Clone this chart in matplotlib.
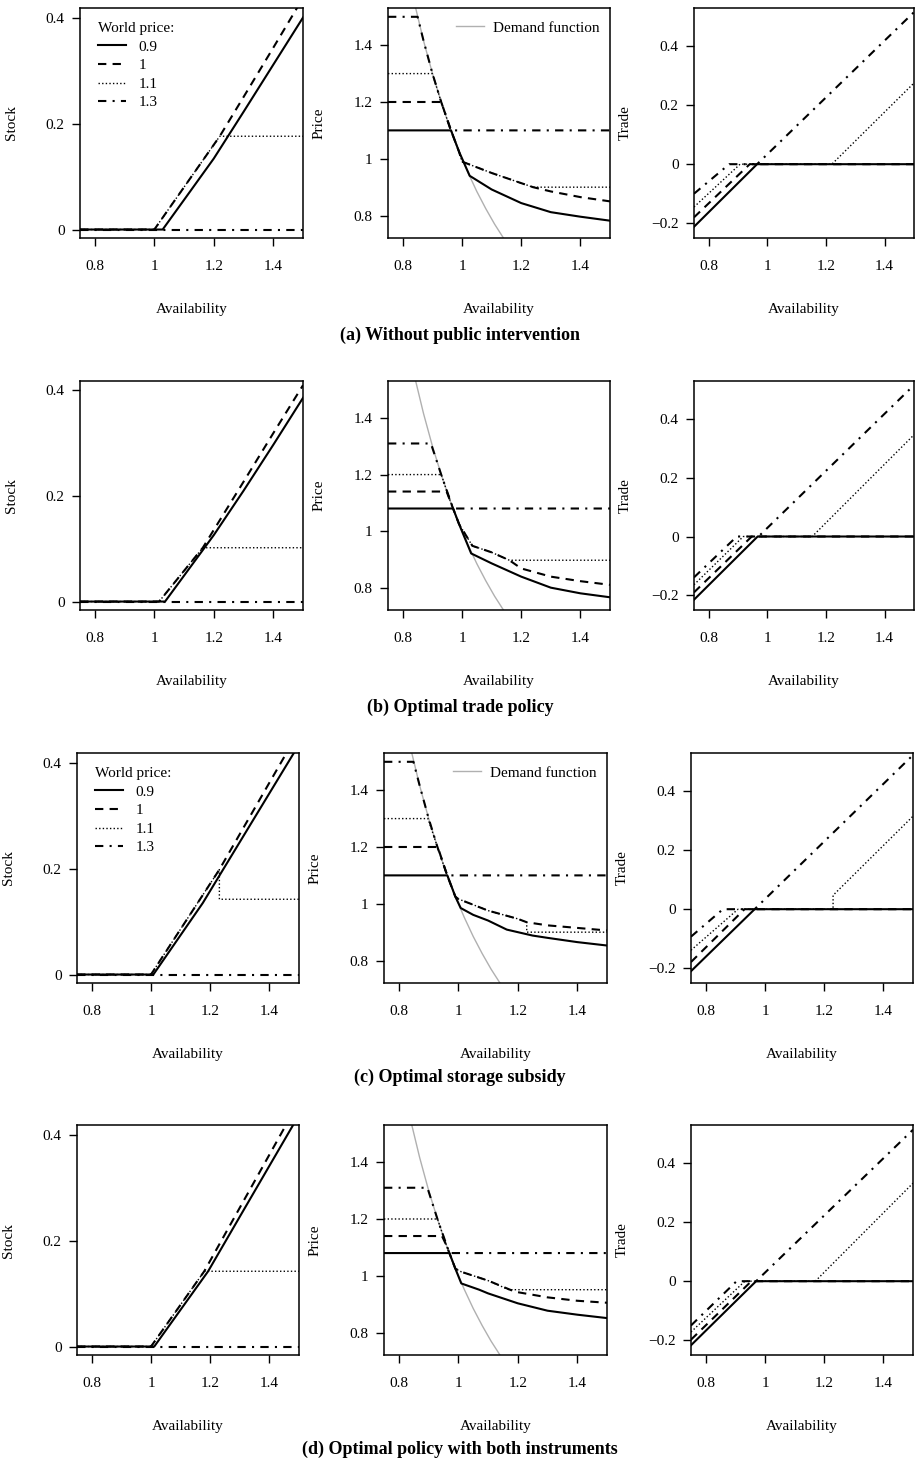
import matplotlib
matplotlib.use("Agg")
import matplotlib.pyplot as plt

plt.rcParams['font.family'] = ['Liberation Serif', 'DejaVu Serif']
plt.rcParams['font.size'] = 11

W, H = 915, 1467

# world price levels and their line styles
prices = ["0.9", "1", "1.1", "1.3"]

# demand function
demand_x = [0.84, 0.87, 0.90, 0.93, 0.96, 0.99, 1.02, 1.05, 1.08, 1.11, 1.14]
demand_y = [1.546, 1.416, 1.301, 1.199, 1.107, 1.025, 0.952, 0.885, 0.825, 0.770, 0.721]

# (a) without public intervention
stock_a = {
    "0.9": ([0.75, 1.028, 1.1, 1.2, 1.3, 1.4, 1.5], [0, 0, 0.056, 0.134, 0.222, 0.311, 0.40]),
    "1":   ([0.75, 1.0, 1.1, 1.22, 1.3, 1.4, 1.5], [0, 0, 0.08, 0.176, 0.25, 0.343, 0.437]),
    "1.1": ([0.75, 1.0, 1.1, 1.22, 1.5], [0, 0, 0.08, 0.176, 0.176]),
    "1.3": ([0.75, 1.5], [0, 0]),
}
price_a = {
    "0.9": ([0.75, 0.963, 0.99, 1.026, 1.1, 1.2, 1.3, 1.4, 1.5],
            [1.1, 1.1, 1.025, 0.94, 0.892, 0.844, 0.812, 0.796, 0.782]),
    "1":   ([0.75, 0.93, 0.96, 0.99, 1.0, 1.1, 1.24, 1.3, 1.4, 1.5],
            [1.2, 1.2, 1.107, 1.025, 0.99, 0.95, 0.9, 0.885, 0.865, 0.85]),
    "1.1": ([0.75, 0.9, 0.93, 0.96, 0.99, 1.0, 1.1, 1.24, 1.5],
            [1.3, 1.3, 1.199, 1.107, 1.025, 0.99, 0.95, 0.9, 0.9]),
    "1.3": ([0.75, 0.85, 0.87, 0.9, 0.93, 0.963, 1.5],
            [1.5, 1.5, 1.416, 1.301, 1.199, 1.1, 1.1]),
}
trade_a = {
    "0.9": ([0.75, 0.965, 1.5], [-0.212, 0, 0]),
    "1":   ([0.75, 0.94, 1.5], [-0.18, 0, 0]),
    "1.1": ([0.75, 0.907, 1.22, 1.5], [-0.145, 0, 0, 0.275]),
    "1.3": ([0.75, 0.87, 0.965, 1.5], [-0.10, 0, 0, 0.515]),
}

# (b) optimal trade policy
stock_b = {
    "0.9": ([0.75, 1.036, 1.2, 1.3, 1.4, 1.5], [0, 0, 0.126, 0.21, 0.297, 0.386]),
    "1":   ([0.75, 1.016, 1.163, 1.3, 1.4, 1.5], [0, 0, 0.102, 0.227, 0.319, 0.41]),
    "1.1": ([0.75, 1.016, 1.163, 1.5], [0, 0, 0.102, 0.102]),
    "1.3": ([0.75, 1.5], [0, 0]),
}
price_b = {
    "0.9": ([0.75, 0.97, 0.99, 1.031, 1.1, 1.2, 1.3, 1.4, 1.5],
            [1.08, 1.08, 1.025, 0.921, 0.886, 0.839, 0.80, 0.78, 0.766]),
    "1":   ([0.75, 0.948, 0.96, 0.99, 1.035, 1.1, 1.16, 1.2, 1.3, 1.4, 1.5],
            [1.14, 1.14, 1.107, 1.025, 0.948, 0.925, 0.897, 0.868, 0.839, 0.823, 0.81]),
    "1.1": ([0.75, 0.93, 0.96, 0.99, 1.035, 1.1, 1.16, 1.5],
            [1.2, 1.2, 1.107, 1.025, 0.948, 0.925, 0.897, 0.897]),
    "1.3": ([0.75, 0.895, 0.93, 0.97, 1.5], [1.31, 1.31, 1.199, 1.08, 1.08]),
}
trade_b = {
    "0.9": ([0.75, 0.967, 1.5], [-0.215, 0, 0]),
    "1":   ([0.75, 0.947, 1.5], [-0.19, 0, 0]),
    "1.1": ([0.75, 0.918, 1.153, 1.5], [-0.164, 0, 0, 0.346]),
    "1.3": ([0.75, 0.896, 0.97, 1.5], [-0.139, 0, 0, 0.515]),
}

# (c) optimal storage subsidy
stock_c = {
    "0.9": ([0.75, 1.008, 1.175, 1.3, 1.4, 1.5], [0, 0, 0.135, 0.25, 0.342, 0.434]),
    "1":   ([0.75, 1.0, 1.231, 1.3, 1.4, 1.5], [0, 0, 0.198, 0.265, 0.362, 0.459]),
    "1.1": ([0.75, 1.0, 1.231, 1.231, 1.5], [0, 0, 0.198, 0.142, 0.142]),
    "1.3": ([0.75, 1.5], [0, 0]),
}
price_c = {
    "0.9": ([0.75, 0.963, 0.99, 1.008, 1.05, 1.1, 1.163, 1.25, 1.3, 1.4, 1.5],
            [1.1, 1.1, 1.025, 0.985, 0.961, 0.941, 0.909, 0.888, 0.88, 0.865, 0.853]),
    "1":   ([0.75, 0.931, 0.96, 0.99, 1.0, 1.1, 1.2, 1.23, 1.3, 1.4, 1.5],
            [1.2, 1.2, 1.107, 1.025, 1.017, 0.976, 0.947, 0.935, 0.924, 0.915, 0.906]),
    "1.1": ([0.75, 0.898, 0.93, 0.96, 0.99, 1.0, 1.1, 1.2, 1.23, 1.23, 1.5],
            [1.3, 1.3, 1.199, 1.107, 1.025, 1.017, 0.976, 0.947, 0.935, 0.9, 0.9]),
    "1.3": ([0.75, 0.849, 0.87, 0.9, 0.93, 0.963, 1.5],
            [1.5, 1.5, 1.416, 1.301, 1.199, 1.1, 1.1]),
}
trade_c = {
    "0.9": ([0.75, 0.965, 1.5], [-0.21, 0, 0]),
    "1":   ([0.75, 0.931, 1.5], [-0.179, 0, 0]),
    "1.1": ([0.75, 0.909, 1.23, 1.23, 1.5], [-0.139, 0, 0, 0.047, 0.315]),
    "1.3": ([0.75, 0.858, 0.965, 1.5], [-0.093, 0, 0, 0.522]),
}

# (d) optimal policy with both instruments
stock_d = {
    "0.9": ([0.75, 1.011, 1.193, 1.3, 1.4, 1.5], [0, 0, 0.142, 0.245, 0.341, 0.437]),
    "1":   ([0.75, 1.0, 1.18, 1.3, 1.4, 1.5], [0, 0, 0.142, 0.262, 0.362, 0.462]),
    "1.1": ([0.75, 1.0, 1.18, 1.5], [0, 0, 0.142, 0.142]),
    "1.3": ([0.75, 1.5], [0, 0]),
}
price_d = {
    "0.9": ([0.75, 0.97, 0.99, 1.01, 1.07, 1.1, 1.2, 1.3, 1.4, 1.5],
            [1.08, 1.08, 1.025, 0.973, 0.951, 0.938, 0.903, 0.877, 0.863, 0.851]),
    "1":   ([0.75, 0.945, 0.96, 0.99, 1.01, 1.1, 1.19, 1.3, 1.4, 1.5],
            [1.14, 1.14, 1.107, 1.025, 1.014, 0.983, 0.944, 0.924, 0.912, 0.905]),
    "1.1": ([0.75, 0.93, 0.96, 0.99, 1.01, 1.1, 1.17, 1.5],
            [1.2, 1.2, 1.107, 1.025, 1.014, 0.983, 0.951, 0.951]),
    "1.3": ([0.75, 0.896, 0.93, 0.97, 1.5], [1.31, 1.31, 1.199, 1.08, 1.08]),
}
trade_d = {
    "0.9": ([0.75, 0.97, 1.5], [-0.217, 0, 0]),
    "1":   ([0.75, 0.954, 1.5], [-0.198, 0, 0]),
    "1.1": ([0.75, 0.932, 1.17, 1.5], [-0.172, 0, 0, 0.332]),
    "1.3": ([0.75, 0.904, 0.97, 1.5], [-0.15, 0, 0, 0.513]),
}

captions = ["(a) Without public intervention", "(b) Optimal trade policy",
            "(c) Optimal storage subsidy", "(d) Optimal policy with both instruments"]

styles = {
    "0.9": dict(ls="-", lw=1.5),
    "1":   dict(ls=(0, (4, 3)), lw=1.5),
    "1.1": dict(ls=(0, (1, 1.6)), lw=1.0),
    "1.3": dict(ls=(0, (4, 3, 1, 3)), lw=1.5),
}

rows = [
    (stock_a, price_a, trade_a),
    (stock_b, price_b, trade_b),
    (stock_c, price_c, trade_c),
    (stock_d, price_d, trade_d),
]
row_y = [(8, 238), (381, 610), (753, 983), (1125, 1355)]
row_x = [
    [(80, 303), (388, 610), (694, 914)],
    [(80, 303), (388, 610), (694, 914)],
    [(77, 299), (384, 607), (691, 913)],
    [(77, 299), (384, 607), (691, 913)],
]
caption_y = [335, 707, 1077, 1449]

ylims = [(-0.016, 0.418), (0.721, 1.531), (-0.25, 0.529)]
yticks = [[0, 0.2, 0.4], [0.8, 1, 1.2, 1.4], [-0.2, 0, 0.2, 0.4]]
ylabels = ["Stock", "Price", "Trade"]


def fmt(v):
    s = "%g" % v
    return s.replace("-", "\u2212")


fig = plt.figure(figsize=(W / 100, H / 100), dpi=100)

for r, panels in enumerate(rows):
    y0, y1 = row_y[r]
    for c, data in enumerate(panels):
        x0, x1 = row_x[r][c]
        ax = fig.add_axes([x0 / W, 1 - y1 / H, (x1 - x0) / W, (y1 - y0) / H])
        if c == 1:
            ax.plot(demand_x, demand_y, color="#b0b0b0", lw=1.0,
                    label="Demand function")
        for p in prices:
            xs, ys = data[p]
            ax.plot(xs, ys, color="black", label=p, **styles[p])
        ax.set_xlim(0.75, 1.5)
        ax.set_ylim(*ylims[c])
        ax.set_xticks([0.8, 1, 1.2, 1.4])
        ax.set_xticklabels([fmt(v) for v in [0.8, 1, 1.2, 1.4]])
        ax.set_yticks(yticks[c])
        ax.set_yticklabels([fmt(v) for v in yticks[c]])
        ax.tick_params(axis="x", direction="out", length=6, width=1, pad=10,
                       labelsize=11)
        ax.tick_params(axis="y", direction="out", length=6, width=1, pad=5,
                       labelsize=11)
        for sp in ax.spines.values():
            sp.set_linewidth(1.1)
        ax.set_xlabel("Availability", fontsize=11)
        ax.xaxis.set_label_coords(0.5, -65 / (y1 - y0))
        ax.set_ylabel(ylabels[c], fontsize=11)
        ax.yaxis.set_label_coords(-62 / (x1 - x0), 0.5)

        if r in (0, 2) and c == 0:
            h, l = ax.get_legend_handles_labels()
            ax.legend(h, l, title="World price:", loc="upper left",
                      bbox_to_anchor=(0.035, 0.985), frameon=False,
                      handlelength=1.8, handletextpad=0.8,
                      labelspacing=0.32, fontsize=11,
                      title_fontsize=11, alignment="left",
                      borderpad=0.2)
        if r in (0, 2) and c == 1:
            h, l = ax.get_legend_handles_labels()
            ax.legend(h[:1], l[:1], loc="upper right",
                      bbox_to_anchor=(1.0, 0.99), frameon=False,
                      handlelength=1.8, handletextpad=0.6, fontsize=11,
                      borderpad=0.2)

    fig.text(460 / W, 1 - caption_y[r] / H, captions[r], ha="center",
             va="center", fontsize=13, fontweight="bold")

fig.savefig("out.png", dpi=100)
